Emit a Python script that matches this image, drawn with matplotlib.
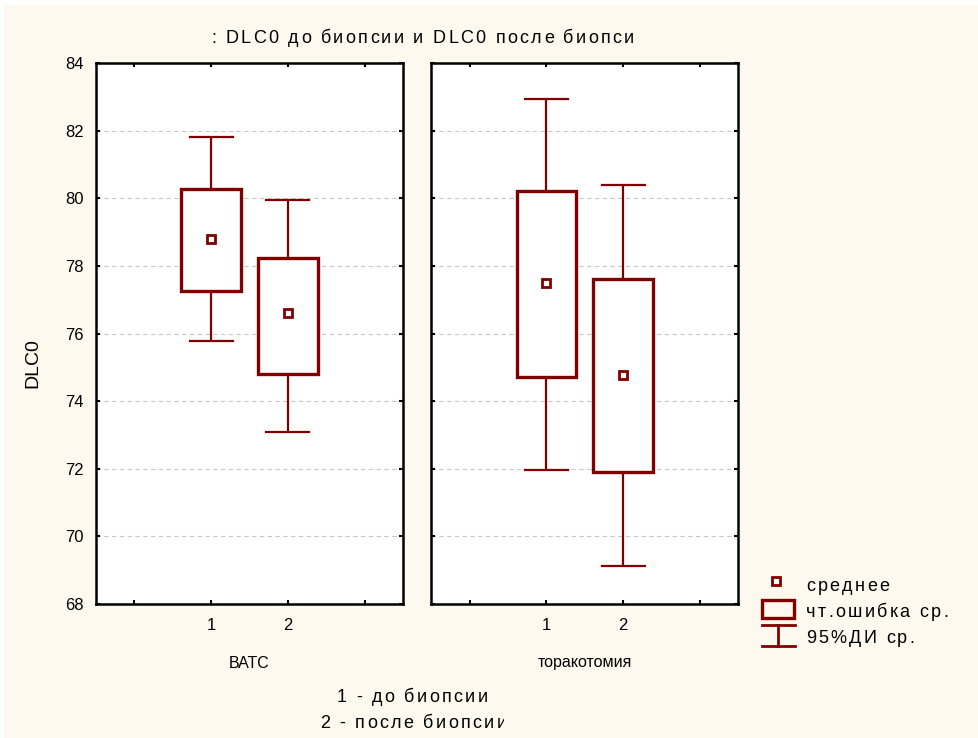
import matplotlib.pyplot as plt
from matplotlib import font_manager, ft2font
from matplotlib.patches import Rectangle
from matplotlib.transforms import Bbox

plt.rcParams["font.family"] = ["Liberation Sans", "DejaVu Sans"]

# mean, standard-error box and 95% CI for each subgroup (1 - before, 2 - after biopsy)
groups = ["ВАТС", "торакотомия"]
x_labels = ["1", "2"]
means_vats = [78.8, 76.6]
se_lo_vats = [77.27, 74.80]
se_hi_vats = [80.28, 78.23]
ci_lo_vats = [75.77, 73.10]
ci_hi_vats = [81.82, 79.96]

means_tor = [77.5, 74.77]
se_lo_tor = [74.70, 71.90]
se_hi_tor = [80.22, 77.62]
ci_lo_tor = [71.96, 69.12]
ci_hi_tor = [82.93, 80.40]

y_ticks = [68, 70, 72, 74, 76, 78, 80, 82, 84]

title = ": DLC0 до биопсии и DLC0 после биопсии"
note_1 = "1 - до биопсии"
note_2 = "2 - после биопсии"
legend_labels = ["среднее", "чт.ошибка ср.", "95%ДИ ср."]

RED = "#800000"
BG = "#FDF9EE"
W, H = 979, 738
DPI = 100

fig = plt.figure(figsize=(W / DPI, H / DPI), dpi=DPI, facecolor="white")
fig.patches.append(Rectangle((4 / W, 0), 1, 1 - 5 / H, transform=fig.transFigure,
                             facecolor=BG, edgecolor="none", zorder=-10))


def draw_panel(ax, means, se_lo, se_hi, ci_lo, ci_hi, name, show_y):
    positions = [1, 2]
    for x, m, lo, hi, clo, chi in zip(positions, means, se_lo, se_hi, ci_lo, ci_hi):
        ax.plot([x, x], [hi, chi], color=RED, lw=1.6, solid_capstyle="butt", zorder=3)
        ax.plot([x, x], [clo, lo], color=RED, lw=1.6, solid_capstyle="butt", zorder=3)
        ax.plot([x - 0.28, x + 0.28], [chi, chi], color=RED, lw=1.6, zorder=3)
        ax.plot([x - 0.28, x + 0.28], [clo, clo], color=RED, lw=1.6, zorder=3)
        ax.add_patch(Rectangle((x - 0.39, lo), 0.78, hi - lo, facecolor="white",
                               edgecolor=RED, lw=2.4, zorder=4))
        ax.plot(x, m, marker="s", ms=5.5, mfc="white", mec=RED, mew=2, zorder=5)
    ax.set_xlim(-0.5, 3.5)
    ax.set_ylim(68, 84)
    ax.set_xticks([0, 1, 2, 3])
    ax.set_xticklabels([""] + x_labels + [""])
    ax.set_yticks(y_ticks)
    ax.yaxis.grid(True, ls=(0, (4, 3)), color="#c8c8c8", lw=0.8)
    ax.set_axisbelow(True)
    ax.tick_params(direction="in", length=3, width=1.5, top=True, right=True,
                   labelsize=12)
    ax.tick_params(axis="x", pad=10)
    ax.tick_params(axis="y", pad=9)
    if not show_y:
        ax.set_yticklabels([])
    for sp in ax.spines.values():
        sp.set_linewidth(1.8)
    ax.set_xlabel(name, fontsize=11.5)
    ax.xaxis.set_label_coords(0.5, -(663 - 604) / 541)
    ax.xaxis.label.set_va("center")


ax1 = fig.add_axes([96 / W, 1 - 604 / H, 307 / W, 541 / H])
ax2 = fig.add_axes([431.5 / W, 1 - 604 / H, 306.5 / W, 541 / H])
draw_panel(ax1, means_vats, se_lo_vats, se_hi_vats, ci_lo_vats, ci_hi_vats, groups[0], True)
draw_panel(ax2, means_tor, se_lo_tor, se_hi_tor, ci_lo_tor, ci_hi_tor, groups[1], False)

fig.text(33 / W, 1 - 363 / H, "DLC0", rotation=90, ha="center", va="center", fontsize=14)

# letter-spaced text, laid out glyph by glyph in pixel coordinates
font = ft2font.FT2Font(font_manager.findfont("Liberation Sans"))


def spaced_text(x, baseline, s, size=13, track=2.3, ha="left", clip_right=None):
    font.set_size(size, DPI)
    adv = [font.load_char(ord(c)).linearHoriAdvance / 65536 for c in s]
    total = sum(adv) + track * (len(s) - 1)
    if ha == "center":
        x -= total / 2
    for c, a in zip(s, adv):
        t = fig.text(x / W, 1 - baseline / H, c, fontsize=size, va="baseline", ha="left",
                     family="Liberation Sans")
        if clip_right is not None:
            t.set_clip_box(Bbox.from_extents(0, 0, clip_right, H))
            t.set_clip_on(True)
        x += a + track


spaced_text(211, 42.7, title, clip_right=637)
spaced_text(412, 701.7, note_1, ha="center")
spaced_text(320, 728.3, note_2, clip_right=504)

# legend
lax = fig.add_axes([0, 0, 1, 1], zorder=-5)
lax.set_xlim(0, W)
lax.set_ylim(H, 0)
lax.axis("off")
lax.plot(776, 580.5, marker="s", ms=5.5, mfc="white", mec=RED, mew=2)
lax.add_patch(Rectangle((762, 599.5), 32, 18.5, facecolor="none", edgecolor=RED, lw=2.4))
lax.plot([762, 795], [625, 625], color=RED, lw=2)
lax.plot([762, 795], [646, 646], color=RED, lw=2)
lax.plot([778, 778], [625, 646], color=RED, lw=2)
for y, s in zip([590.7, 616.7, 642.7], legend_labels):
    spaced_text(806, y, s)

fig.savefig("out.png", dpi=DPI)
